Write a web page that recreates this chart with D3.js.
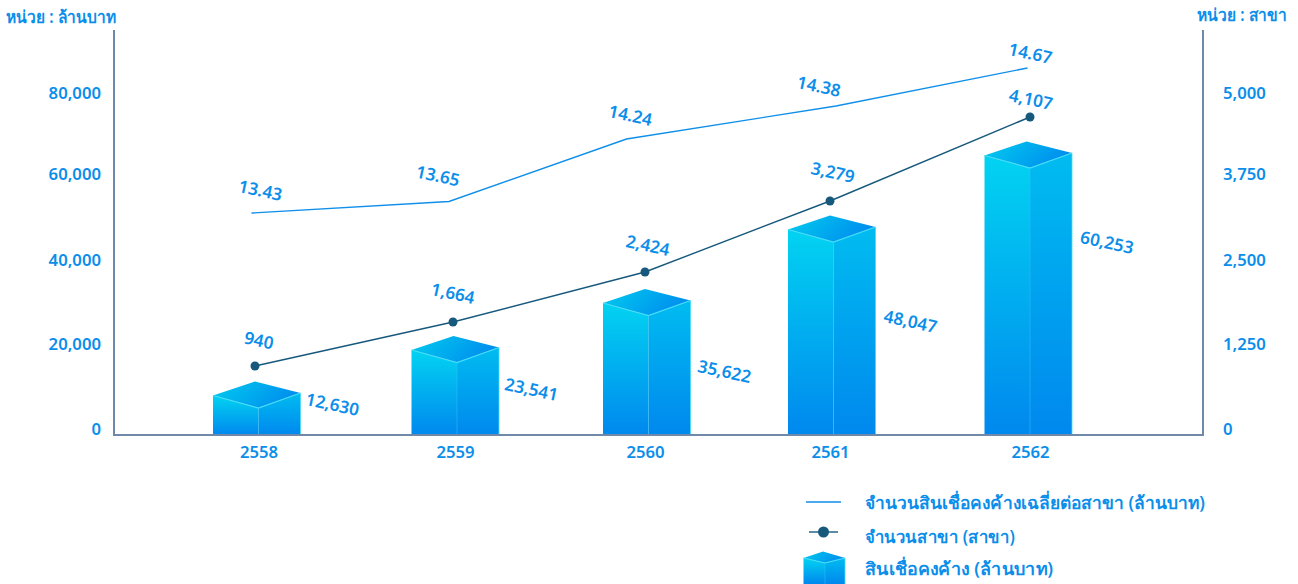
<!DOCTYPE html>
<html><head><meta charset="utf-8">
<script src="https://cdn.jsdelivr.net/npm/d3@7/dist/d3.min.js"></script>
<style>
html,body{margin:0;padding:0;background:#fff}
svg{display:block}
text{font-family:"Noto Sans","Open Sans",Inter,sans-serif;font-weight:600;fill:#0b8eea}
.axis path,.axis line{display:none}
</style></head><body>
<svg id="c" width="1298" height="584"></svg>
<script>
// Data
const years = ["2558","2559","2560","2561","2562"];
const avgLoan = [13.43,13.65,14.24,14.38,14.67];
const branches = [940,1664,2424,3279,4107];
const loans = [12630,23541,35622,48047,60253];
const leftTicks = [0,20000,40000,60000,80000];
const rightTicks = [0,1250,2500,3750,5000];
const unitLeft = "หน่วย : ล้านบาท";
const unitRight = "หน่วย : สาขา";
const legendNames = ["จำนวนสินเชื่อคงค้างเฉลี่ยต่อสาขา (ล้านบาท)","จำนวนสาขา (สาขา)","สินเชื่อคงค้าง (ล้านบาท)"];

// Scales: the original is a hand-drawn pictorial, so each series has its own non-uniform scale
const baseY = 435;
const xBar = d3.scaleOrdinal(years,[258.5,457,648.5,833.5,1030]);
const xTick = d3.scaleOrdinal(years,[258.5,455,645,830,1030]);
const xDot = d3.scaleOrdinal(years,[255,453,645,830,1030]);
const xLine = d3.scaleOrdinal(years,[251.5,449,626.5,836,1027.5]);
const yBar = d3.scaleLinear([0,...loans],[baseY,408,362.5,315.5,242,168]);
const yDot = d3.scaleLinear(branches,[366,322,272,201,117]);
const yLine = d3.scaleLinear(avgLoan,[213,201.5,139,106,68]);
const yLeft = d3.scaleLinear(leftTicks,[429,344,260.5,174,93]);
const yRight = d3.scaleLinear(rightTicks,[429,344,260.5,174,93]);

const svg = d3.select("#c");
const defs = svg.append("defs");
function grad(id,x2,y2,c1,c2){
  const g = defs.append("linearGradient").attr("id",id).attr("x1",0).attr("y1",0).attr("x2",x2).attr("y2",y2);
  g.append("stop").attr("offset",0).attr("stop-color",c1);
  g.append("stop").attr("offset",1).attr("stop-color",c2);
}
grad("gL",0,1,"#02d3f1","#0088ee");
grad("gR",0,1,"#00bcf0","#0088ee");
grad("gT",1,0.3,"#00ccee","#008fee");

function cube(g,cx,ty,by,s){ // s: left,right half-widths and corner rises of the cube top
  const {l,r,dl,dr,ax,ay}=s;
  const p=a=>a.map(d=>d.join(",")).join(" ");
  g.append("polygon").attr("points",p([[cx-l,ty-dl],[cx,ty],[cx,by],[cx-l,by]])).attr("fill","url(#gL)");
  g.append("polygon").attr("points",p([[cx,ty],[cx+r,ty-dr],[cx+r,by],[cx,by]])).attr("fill","url(#gR)");
  g.append("polygon").attr("points",p([[cx-l,ty-dl],[cx-ax,ty-ay],[cx+r,ty-dr],[cx,ty]])).attr("fill","url(#gT)");
  g.append("polyline").attr("points",p([[cx-l,ty-dl],[cx,ty],[cx+r,ty-dr]])).attr("fill","none").attr("stroke","#47dcf7").attr("stroke-width",1.2);
  g.append("line").attr("x1",cx).attr("x2",cx).attr("y1",ty).attr("y2",by).attr("stroke","#38c4f5").attr("stroke-width",.7).attr("opacity",.7);
  g.append("line").attr("x1",cx+r).attr("x2",cx+r).attr("y1",ty-dr).attr("y2",by).attr("stroke","#47dcf7").attr("stroke-width",.8);
}

// Bars
const bars = svg.append("g");
years.forEach((y,i)=>cube(bars.append("g"),xBar(y),yBar(loans[i]),baseY,{l:45.5,r:42,dl:12.5,dr:15,ax:3.5,ay:26.5}));

// Axes
const axisC="#7089a8";
svg.append("path").attr("d",d3.line()([[114,30],[114,baseY],[1203,baseY],[1203,30]])).attr("fill","none").attr("stroke",axisC).attr("stroke-width",2);
svg.append("g").attr("class","axis").attr("transform","translate(114,0)")
  .call(d3.axisLeft(yLeft).tickValues(leftTicks).tickFormat(d3.format(",")).tickSize(0).tickPadding(13));
svg.append("g").attr("class","axis").attr("transform","translate(1203,0)")
  .call(d3.axisRight(yRight).tickValues(rightTicks).tickFormat(d3.format(",")).tickSize(0).tickPadding(20));
svg.append("g").attr("class","axis").attr("transform","translate(0,"+baseY+")")
  .call(d3.axisBottom(xTick).tickSize(0).tickPadding(11));
svg.selectAll(".axis text").attr("font-size",16.7).style("font-family",'"Noto Sans"').style("font-weight",600).attr("fill",null);
svg.selectAll(".axis").attr("font-family",null).attr("font-size",null);

// Lines
const lineAvg = d3.line().x((d,i)=>xLine(years[i])).y(d=>yLine(d));
svg.append("path").attr("d",lineAvg(avgLoan)).attr("fill","none").attr("stroke","#0f8fe9").attr("stroke-width",1.4);
const lineBr = d3.line().x((d,i)=>xDot(years[i])).y(d=>yDot(d));
svg.append("path").attr("d",lineBr(branches)).attr("fill","none").attr("stroke","#17597c").attr("stroke-width",1.4);
svg.selectAll("circle.d").data(branches).join("circle").attr("class","d")
  .attr("cx",(d,i)=>xDot(years[i])).attr("cy",d=>yDot(d)).attr("r",4.5).attr("fill","#17597c");

// Rotated value labels (offsets from each mark)
const avgOff = [[9,-23],[-11,-26],[4,-24],[-17,-20],[3,-15]];
const brOff = [[4,-26],[0,-29],[3,-27],[3,-29],[1,-18]];
const loanOff = [[74,-4],[74.5,26.5],[76,55.5],[77,79],[77,74]];
function labels(vals,fmt,px,py,off){
  svg.append("g").selectAll("text").data(vals).join("text")
   .attr("text-anchor","middle").attr("dominant-baseline","central").attr("font-size",17.2)
   .attr("transform",(d,i)=>`translate(${px(i)+off[i][0]},${py(d)+off[i][1]}) rotate(12)`)
   .text(fmt);
}
labels(avgLoan,d3.format(".2f"),i=>xLine(years[i]),yLine,avgOff);
labels(branches,d3.format(","),i=>xDot(years[i]),yDot,brOff);
labels(loans,d3.format(","),i=>xBar(years[i]),yBar,loanOff);

// Units
svg.append("text").attr("x",6).attr("y",23).attr("font-size",17).attr("textLength",110).attr("lengthAdjust","spacingAndGlyphs").text(unitLeft);
svg.append("text").attr("x",1197).attr("y",21).attr("font-size",17).attr("textLength",90).attr("lengthAdjust","spacingAndGlyphs").text(unitRight);

// Legend
const legendWidths = [340,150,188];
const lg = svg.append("g");
lg.append("line").attr("x1",806).attr("x2",841).attr("y1",502).attr("y2",502).attr("stroke","#0f8fe9").attr("stroke-width",1.4);
lg.append("line").attr("x1",809).attr("x2",838).attr("y1",532).attr("y2",532).attr("stroke","#17597c").attr("stroke-width",1.4);
lg.append("circle").attr("cx",823.5).attr("cy",532).attr("r",5.5).attr("fill","#17597c");
cube(lg.append("g"),825,563,584,{l:21.5,r:20,dl:5,dr:5,ax:2,ay:11.5});
lg.selectAll("text").data(legendNames).join("text").attr("x",865).attr("y",(d,i)=>[509,543,575][i]).attr("font-size",17.3)
  .attr("textLength",(d,i)=>legendWidths[i]).attr("lengthAdjust","spacingAndGlyphs").text(d=>d);
</script>
</body></html>
